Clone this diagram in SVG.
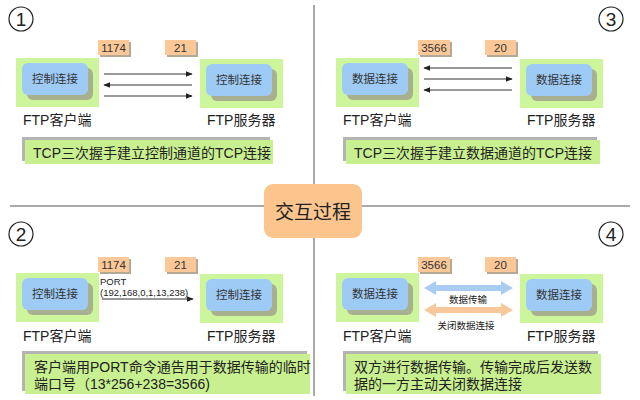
<svg xmlns="http://www.w3.org/2000/svg" width="640" height="400" viewBox="0 0 640 400">
<defs>
<style>
.t{font-family:"Liberation Sans","Noto Sans CJK SC",sans-serif;fill:#222}
.lbl{font-size:14px}
.inner{font-size:11.5px;fill:#333}
.port{font-size:11.5px;fill:#333}
.cap{font-size:14px;fill:#222}
.green{fill:#ccf59c}
.blue{fill:#9ecbf5}
.sh{fill:#a9b08f}
.pbox{fill:#fcc898}
.psh{fill:#b5a995}
.capsh{fill:#b4b4b4}
.cap-bg{fill:#c8f090}
.ln{stroke:#333;stroke-width:1}
.circ{fill:none;stroke:#222;stroke-width:1.2}
.num{font-size:19px;fill:#222}
</style>
<marker id="ah" viewBox="0 0 10 10" refX="9" refY="5" markerWidth="7" markerHeight="7" orient="auto-start-reverse">
<path d="M0,1 L10,5 L0,9 z" fill="#222"/>
</marker>
</defs>
<rect width="640" height="400" fill="#fff"/>

<g id="dividers" stroke="#555" stroke-width="1">
<line x1="10" y1="206" x2="265" y2="206"/>
<line x1="362" y1="206" x2="630" y2="206"/>
<line x1="314" y1="5" x2="314" y2="185"/>
<line x1="314" y1="238" x2="314" y2="396"/>
</g>

<g id="center">
<rect x="264" y="184" width="98" height="54" rx="9" fill="#fcc58e"/>
<text class="t" x="313" y="219" font-size="19" text-anchor="middle">交互过程</text>
</g>

<!-- Panel 1 -->
<g id="p1-num"><circle class="circ" cx="21" cy="19" r="12"/><text class="t num" x="21" y="26" text-anchor="middle">1</text></g>
<g id="p1-port1"><rect class="psh" x="100" y="42" width="31" height="15"/><rect class="pbox" x="98" y="40" width="31" height="15"/><text class="t port" x="113.5" y="52" text-anchor="middle">1174</text></g>
<g id="p1-port2"><rect class="psh" x="167" y="42" width="31" height="15"/><rect class="pbox" x="165" y="40" width="31" height="15"/><text class="t port" x="180.5" y="52" text-anchor="middle">21</text></g>
<g id="p1-client">
<rect class="green" x="16" y="58" width="83" height="49"/>
<rect class="sh" x="27" y="68" width="66" height="32" rx="6"/>
<rect class="blue" x="22" y="63" width="66" height="32" rx="6"/>
<text class="t inner" x="55" y="83" text-anchor="middle">控制连接</text>
<text class="t lbl" x="23" y="125">FTP客户端</text>
</g>
<g id="p1-server">
<rect class="green" x="200" y="59" width="83" height="49"/>
<rect class="sh" x="211" y="69" width="66" height="32" rx="6"/>
<rect class="blue" x="206" y="64" width="66" height="32" rx="6"/>
<text class="t inner" x="239" y="84" text-anchor="middle">控制连接</text>
<text class="t lbl" x="207" y="125">FTP服务器</text>
</g>
<g id="p1-caption">
<rect class="capsh" x="22" y="137" width="248" height="24"/>
<rect class="cap-bg" x="25" y="140" width="248" height="24"/>
<text class="t cap" x="33" y="158">TCP三次握手建立控制通道的TCP连接</text>
</g>

<!-- Panel 3 -->
<g id="p3-num"><circle class="circ" cx="611" cy="19" r="12"/><text class="t num" x="611" y="26" text-anchor="middle">3</text></g>
<g id="p3-port1"><rect class="psh" x="420" y="42" width="32" height="15"/><rect class="pbox" x="418" y="40" width="32" height="15"/><text class="t port" x="434" y="52" text-anchor="middle">3566</text></g>
<g id="p3-port2"><rect class="psh" x="487" y="42" width="31" height="15"/><rect class="pbox" x="485" y="40" width="31" height="15"/><text class="t port" x="500.5" y="52" text-anchor="middle">20</text></g>
<g id="p3-client">
<rect class="green" x="336" y="58" width="83" height="49"/>
<rect class="sh" x="347" y="68" width="66" height="32" rx="6"/>
<rect class="blue" x="342" y="63" width="66" height="32" rx="6"/>
<text class="t inner" x="375" y="83" text-anchor="middle">数据连接</text>
<text class="t lbl" x="343" y="125">FTP客户端</text>
</g>
<g id="p3-server">
<rect class="green" x="520" y="59" width="83" height="49"/>
<rect class="sh" x="531" y="69" width="66" height="32" rx="6"/>
<rect class="blue" x="526" y="64" width="66" height="32" rx="6"/>
<text class="t inner" x="559" y="84" text-anchor="middle">数据连接</text>
<text class="t lbl" x="527" y="125">FTP服务器</text>
</g>
<g id="p3-caption">
<rect class="capsh" x="343" y="137" width="254" height="24"/>
<rect class="cap-bg" x="346" y="140" width="254" height="24"/>
<text class="t cap" x="354" y="158">TCP三次握手建立数据通道的TCP连接</text>
</g>

<!-- Panel 2 -->
<g id="p2-num"><circle class="circ" cx="21" cy="234" r="12"/><text class="t num" x="21" y="241" text-anchor="middle">2</text></g>
<g id="p2-port1"><rect class="psh" x="100" y="259" width="31" height="15"/><rect class="pbox" x="98" y="257" width="31" height="15"/><text class="t port" x="113.5" y="269" text-anchor="middle">1174</text></g>
<g id="p2-port2"><rect class="psh" x="167" y="259" width="31" height="15"/><rect class="pbox" x="165" y="257" width="31" height="15"/><text class="t port" x="180.5" y="269" text-anchor="middle">21</text></g>
<g id="p2-client">
<rect class="green" x="16" y="273" width="83" height="49"/>
<rect class="sh" x="27" y="283" width="66" height="32" rx="6"/>
<rect class="blue" x="22" y="278" width="66" height="32" rx="6"/>
<text class="t inner" x="55" y="298" text-anchor="middle">控制连接</text>
<text class="t lbl" x="23" y="341">FTP客户端</text>
</g>
<g id="p2-server">
<rect class="green" x="200" y="274" width="83" height="49"/>
<rect class="sh" x="211" y="284" width="66" height="32" rx="6"/>
<rect class="blue" x="206" y="279" width="66" height="32" rx="6"/>
<text class="t inner" x="239" y="299" text-anchor="middle">控制连接</text>
<text class="t lbl" x="207" y="341">FTP服务器</text>
</g>
<g id="p2-port-text">
<text class="t" x="100" y="285" font-size="9.5">PORT</text>
<text class="t" x="100" y="296" font-size="9.5">(192,168,0,1,13,238)</text>
</g>
<g id="p2-caption">
<rect class="capsh" x="22" y="351" width="285" height="40"/>
<rect class="cap-bg" x="25" y="354" width="285" height="40"/>
<text class="t cap" x="34" y="372">客户端用PORT命令通告用于数据传输的临时</text>
<text class="t cap" x="34" y="389">端口号（13*256+238=3566)</text>
</g>

<!-- Panel 4 -->
<g id="p4-num"><circle class="circ" cx="611" cy="234" r="12"/><text class="t num" x="611" y="241" text-anchor="middle">4</text></g>
<g id="p4-port1"><rect class="psh" x="420" y="259" width="32" height="15"/><rect class="pbox" x="418" y="257" width="32" height="15"/><text class="t port" x="434" y="269" text-anchor="middle">3566</text></g>
<g id="p4-port2"><rect class="psh" x="487" y="259" width="31" height="15"/><rect class="pbox" x="485" y="257" width="31" height="15"/><text class="t port" x="500.5" y="269" text-anchor="middle">20</text></g>
<g id="p4-client">
<rect class="green" x="336" y="273" width="83" height="49"/>
<rect class="sh" x="347" y="283" width="66" height="32" rx="6"/>
<rect class="blue" x="342" y="278" width="66" height="32" rx="6"/>
<text class="t inner" x="375" y="298" text-anchor="middle">数据连接</text>
<text class="t lbl" x="343" y="341">FTP客户端</text>
</g>
<g id="p4-server">
<rect class="green" x="520" y="274" width="83" height="49"/>
<rect class="sh" x="531" y="284" width="66" height="32" rx="6"/>
<rect class="blue" x="526" y="279" width="66" height="32" rx="6"/>
<text class="t inner" x="559" y="299" text-anchor="middle">数据连接</text>
<text class="t lbl" x="527" y="341">FTP服务器</text>
</g>
<g id="p4-caption">
<rect class="capsh" x="343" y="351" width="255" height="40"/>
<rect class="cap-bg" x="346" y="354" width="255" height="40"/>
<text class="t cap" x="354" y="372">双方进行数据传输。传输完成后发送数</text>
<text class="t cap" x="354" y="389">据的一方主动关闭数据连接</text>
</g>

<g id="connectors">
<line class="ln" x1="104" y1="74" x2="192" y2="74" marker-end="url(#ah)"/>
<line class="ln" x1="104" y1="85" x2="192" y2="85" marker-start="url(#ah)"/>
<line class="ln" x1="104" y1="96" x2="192" y2="96" marker-end="url(#ah)"/>
<line class="ln" x1="424" y1="68" x2="512" y2="68" marker-start="url(#ah)"/>
<line class="ln" x1="424" y1="79" x2="512" y2="79" marker-end="url(#ah)"/>
<line class="ln" x1="424" y1="90" x2="512" y2="90" marker-start="url(#ah)"/>
<line class="ln" x1="102" y1="299" x2="193" y2="299" marker-end="url(#ah)"/>
<path d="M424,288 L436,281 L436,285 L501,285 L501,281 L513,288 L501,295 L501,291 L436,291 L436,295 z" fill="#a9cdf2"/>
<path d="M424,310 L436,303 L436,307 L501,307 L501,303 L513,310 L501,317 L501,313 L436,313 L436,317 z" fill="#f8c79a"/>
<text class="t" x="468" y="303" font-size="9.5" text-anchor="middle">数据传输</text>
<text class="t" x="466" y="329" font-size="9.5" text-anchor="middle">关闭数据连接</text>
</g>
</svg>
